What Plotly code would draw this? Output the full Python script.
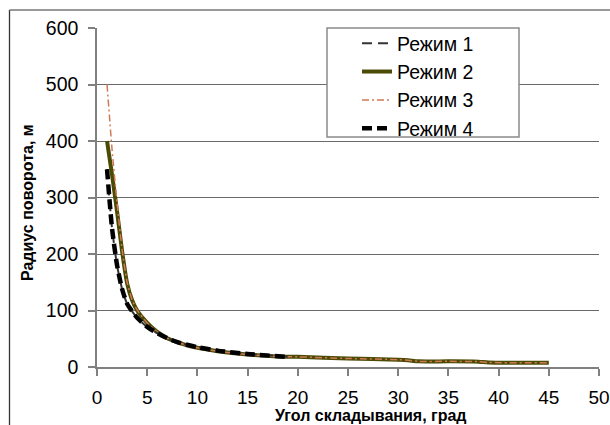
import plotly.graph_objects as go

# ---- data ----
x_mode1 = [1, 1.5, 2, 2.5, 3, 4, 5, 6, 7, 8, 10, 12, 15, 19]
y_mode1 = [350, 245, 180, 138, 112, 87, 71, 60, 51, 44, 35, 29, 23, 18]

x_mode2 = [1, 1.5, 2, 2.5, 3, 3.5, 4, 5, 6, 7, 8, 9, 10, 12, 15, 18, 20, 25, 30, 31, 32, 35, 38, 39, 45]
y_mode2 = [400, 340, 275, 205, 148, 118, 100, 78, 62, 51, 44, 38, 34, 28, 22, 18.5, 18, 15, 13, 12, 10, 10, 9.5, 8, 7.5]

x_mode3 = [1, 1.5, 2, 2.5, 3, 3.5, 4, 5, 6, 7, 8, 9, 10, 12, 15, 18, 20, 25, 30, 31, 32, 35, 38, 39, 45]
y_mode3 = [500, 385, 290, 208, 150, 119, 101, 78, 62, 51, 44, 38, 34, 28, 22, 18.5, 18, 15, 13, 12, 10, 10, 9.5, 8, 7.5]

x_mode4 = [1, 1.5, 2, 2.5, 3, 4, 5, 6, 7, 8, 10, 12, 15, 19]
y_mode4 = [350, 245, 180, 138, 112, 87, 71, 60, 51, 44, 35, 29, 23, 18]

names = ["Режим 1", "Режим 2", "Режим 3", "Режим 4"]
x_ticks = [0, 5, 10, 15, 20, 25, 30, 35, 40, 45, 50]
y_ticks = [0, 100, 200, 300, 400, 500, 600]

FONT = "Liberation Sans, Arial, sans-serif"

fig = go.Figure()

# draw order: mode 2, mode 3, mode 1, mode 4 (legend order fixed by legendrank)
fig.add_trace(go.Scatter(
    x=x_mode2, y=y_mode2, name=names[1], mode="lines", legendrank=2,
    line=dict(color="#4b4b06", width=4, shape="spline", smoothing=0.6)))
fig.add_trace(go.Scatter(
    x=x_mode3, y=y_mode3, name=names[2], mode="lines", legendrank=3,
    line=dict(color="#d07a55", width=1.5, dash="7px,3px,2px,3px", shape="spline", smoothing=0.6)))
fig.add_trace(go.Scatter(
    x=x_mode1, y=y_mode1, name=names[0], mode="lines", legendrank=1,
    line=dict(color="#333333", width=2, dash="10px,6px", shape="spline", smoothing=0.6)))
fig.add_trace(go.Scatter(
    x=x_mode4, y=y_mode4, name=names[3], mode="lines", legendrank=4,
    line=dict(color="#000000", width=4.5, dash="10px,5px", shape="spline", smoothing=0.6)))

L, R, T, B = 97, 11, 28, 58
W, H = 610, 425
pw, ph = W - L - R, H - T - B


def px(xp):
    return (xp - L) / pw


def py(yp):
    return (H - B - yp) / ph


fig.update_layout(
    width=W, height=H,
    margin=dict(l=L, r=R, t=T, b=B, autoexpand=False),
    paper_bgcolor="white", plot_bgcolor="white",
    font=dict(family=FONT, size=19, color="#000000"),
    showlegend=True,
    legend=dict(
        x=px(357), y=py(24), xanchor="left", yanchor="top",
        bgcolor="rgba(0,0,0,0)", borderwidth=0,
        font=dict(family=FONT, size=19.5, color="#000000"),
        traceorder="normal",
    ),
    xaxis=dict(
        range=[0, 50], tickvals=x_ticks, ticktext=[str(v) for v in x_ticks],
        showgrid=False, zeroline=False, automargin=False,
        showline=True, linecolor="#808080", linewidth=1.5,
        ticks="outside", ticklen=7, tickcolor="#808080", tickwidth=1.5,
        ticklabelstandoff=5,
        tickfont=dict(family=FONT, size=19, color="#000000"),
    ),
    yaxis=dict(
        range=[0, 600], tickvals=y_ticks, ticktext=[str(v) for v in y_ticks],
        showgrid=True, gridcolor="#6a6a6a", gridwidth=1.3, zeroline=False, automargin=False,
        showline=True, linecolor="#808080", linewidth=1.5,
        ticks="outside", ticklen=7, tickcolor="#808080", tickwidth=1.5,
        ticklabelstandoff=6,
        tickfont=dict(family=FONT, size=19.5, color="#000000"),
    ),
    shapes=[
        # legend box
        dict(type="rect", xref="paper", yref="paper",
             x0=px(327), x1=px(519), y0=py(137), y1=py(28),
             fillcolor="white", line=dict(color="#8a8a8a", width=1.5), layer="above"),
        # outer chart frame (left and top edges)
        dict(type="line", xref="paper", yref="paper",
             x0=px(9.5), x1=px(9.5), y0=py(10), y1=py(430),
             line=dict(color="#333333", width=1.3)),
        dict(type="line", xref="paper", yref="paper",
             x0=px(9.5), x1=px(615), y0=py(10), y1=py(10),
             line=dict(color="#777777", width=1.3)),
    ],
    annotations=[
        dict(text="<b>Угол складывания, град</b>", xref="paper", yref="paper",
             x=px(371), y=py(415), xanchor="center", yanchor="middle", showarrow=False,
             font=dict(family=FONT, size=16, color="#000000")),
        dict(text="<b>Радиус поворота, м</b>", xref="paper", yref="paper",
             x=px(27.5), y=py(202.5), xanchor="center", yanchor="middle", showarrow=False,
             textangle=-90, font=dict(family=FONT, size=16, color="#000000")),
    ],
)

fig.write_html(
    "out.html",
    config={"displayModeBar": False},
    post_script="document.body.style.margin='0';document.body.style.overflow='hidden';",
)
